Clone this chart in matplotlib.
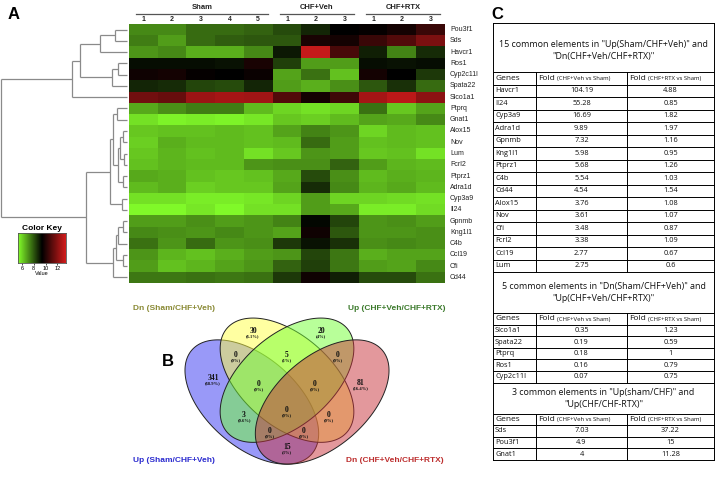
import numpy as np
import matplotlib
matplotlib.use('Agg')
import matplotlib.pyplot as plt
from matplotlib.colors import LinearSegmentedColormap
from matplotlib.patches import Polygon

W, H = 719, 479

# ---------------- Panel A data ----------------
genes = ['Pou3f1', 'Sds', 'Havcr1', 'Ros1', 'Cyp2c11l', 'Spata22', 'Slco1a1',
         'Ptprq', 'Gnat1', 'Alox15', 'Nov', 'Lum', 'Fcrl2', 'Ptprz1', 'Adra1d',
         'Cyp3a9', 'Il24', 'Gpnmb', 'Kng1l1', 'C4b', 'Ccl19', 'Cfi', 'Cd44']
groups = ['Sham', 'CHF+Veh', 'CHF+RTX']
group_sizes = [5, 3, 3]

sham_vals = [
    [7.2, 7.2, 7.7, 7.7, 7.8], [7.4, 6.9, 7.7, 7.9, 8.0], [7.0, 7.2, 6.6, 6.6, 7.2],
    [9.2, 9.2, 9.2, 9.1, 9.9], [9.7, 9.8, 9.5, 9.4, 9.6], [8.8, 8.7, 8.3, 8.2, 8.8],
    [11.6, 11.4, 12.4, 12.6, 12.5], [6.7, 7.1, 7.4, 7.4, 6.4], [5.8, 5.5, 5.6, 5.5, 5.7],
    [6.2, 6.3, 6.3, 6.4, 6.3], [6.1, 6.6, 6.4, 6.4, 6.3], [6.2, 6.5, 6.3, 6.4, 5.8],
    [6.3, 6.5, 6.4, 6.4, 7.0], [6.7, 6.6, 6.3, 6.2, 6.3], [6.4, 6.6, 6.1, 6.2, 6.2],
    [5.8, 5.8, 5.6, 5.6, 5.7], [5.4, 5.4, 5.7, 5.4, 5.8], [6.9, 6.9, 7.1, 6.9, 7.0],
    [7.2, 7.1, 7.0, 7.2, 7.0], [7.6, 7.0, 7.7, 7.0, 7.1], [7.0, 6.5, 6.3, 6.6, 6.9],
    [6.9, 6.3, 6.5, 6.8, 7.0], [7.5, 7.5, 7.6, 7.5, 7.6]]
veh_vals = [
    [8.2, 8.8, 9.4], [8.0, 9.9, 9.8], [9.0, 13.2, 10.8], [8.4, 6.9, 6.9], [6.8, 7.6, 6.3],
    [6.9, 6.6, 7.1], [11.0, 9.8, 10.6], [6.0, 5.8, 6.0], [6.2, 6.1, 6.4], [6.8, 7.3, 7.0],
    [6.4, 7.7, 6.9], [6.2, 7.0, 6.9], [7.1, 7.1, 7.8], [6.7, 8.2, 7.1], [6.8, 8.7, 7.2],
    [6.0, 6.9, 6.0], [5.8, 6.9, 6.7], [7.3, 9.3, 8.3], [6.8, 9.7, 8.0], [8.5, 9.1, 8.6],
    [7.0, 8.3, 7.5], [7.8, 8.4, 7.5], [8.5, 9.7, 8.9]]
rtx_vals = [
    [9.5, 9.8, 10.5], [10.5, 11.0, 11.8], [8.9, 7.3, 8.7], [9.2, 9.1, 9.2], [9.8, 9.4, 8.5],
    [8.0, 8.6, 7.7], [12.6, 13.0, 12.1], [7.6, 6.2, 6.8], [6.8, 6.7, 7.2], [6.0, 6.4, 6.3],
    [6.3, 6.4, 6.3], [6.2, 6.3, 5.8], [6.9, 6.5, 6.4], [6.4, 6.6, 6.5], [6.5, 6.7, 6.4],
    [6.0, 5.9, 5.8], [5.6, 5.6, 5.9], [7.0, 7.1, 6.9], [7.0, 7.0, 7.1], [7.1, 7.2, 7.1],
    [6.6, 6.8, 6.8], [6.9, 6.8, 7.2], [8.2, 8.2, 7.6]]

# dendrogram merges: (child_a, child_b, height); ids >= 23 refer to earlier merges
merges = [
    (0, 1, 14), (23, 2, 29), (3, 4, 11), (25, 5, 17), (24, 26, 49), (27, 6, 57),
    (7, 8, 12), (9, 10, 6), (11, 12, 5), (30, 31, 9), (13, 14, 6), (32, 33, 11),
    (29, 34, 16), (15, 16, 7), (35, 36, 19), (17, 18, 6), (38, 19, 11), (20, 21, 6),
    (39, 40, 13), (41, 22, 16), (37, 42, 43), (28, 43, 127.7)]

key_ticks = [6, 8, 10, 12]
vmin, vmax = 5.3, 13.5

# ---------------- Panel B data ----------------
venn_sets = ['Up (Sham/CHF+Veh)', 'Dn (Sham/CHF+Veh)', 'Up (CHF+Veh/CHF+RTX)', 'Dn (CHF+Veh/CHF+RTX)']
venn_counts = ['30', '20', '0', '5', '0', '341', '0', '0', '81', '3', '0', '0', '0', '0', '15']
venn_pcts = ['(6.1%)', '(4%)', '(0%)', '(1%)', '(0%)', '(68.9%)', '(0%)', '(0%)', '(16.4%)',
             '(0.6%)', '(0%)', '(0%)', '(0%)', '(0%)', '(3%)']

# ---------------- Panel C data ----------------
titles = [['15 common elements in "Up(Sham/CHF+Veh)" and', '"Dn(CHF+Veh/CHF+RTX)"'],
          ['5 common elements in "Dn(Sham/CHF+Veh)" and', '"Up(CHF+Veh/CHF+RTX)"'],
          ['3 common elements in "Up(sham/CHF)" and', '"Up(CHF/CHF-RTX)"']]
block1_genes = ['Havcr1', 'Il24', 'Cyp3a9', 'Adra1d', 'Gpnmb', 'Kng1l1', 'Ptprz1', 'C4b',
                'Cd44', 'Alox15', 'Nov', 'Cfi', 'Fcrl2', 'Ccl19', 'Lum']
block1_veh = ['104.19', '55.28', '16.69', '9.89', '7.32', '5.98', '5.68', '5.54', '4.54',
              '3.76', '3.61', '3.48', '3.38', '2.77', '2.75']
block1_rtx = ['4.88', '0.85', '1.82', '1.97', '1.16', '0.95', '1.26', '1.03', '1.54',
              '1.08', '1.07', '0.87', '1.09', '0.67', '0.6']
block2_genes = ['Slco1a1', 'Spata22', 'Ptprq', 'Ros1', 'Cyp2c11l']
block2_veh = ['0.35', '0.19', '0.18', '0.16', '0.07']
block2_rtx = ['1.23', '0.59', '1', '0.79', '0.75']
block3_genes = ['Sds', 'Pou3f1', 'Gnat1']
block3_veh = ['7.03', '4.9', '4']
block3_rtx = ['37.22', '15', '11.28']

# ============================================================
fig = plt.figure(figsize=(W / 100, H / 100), dpi=100)
ov = fig.add_axes([0, 0, 1, 1])
ov.set_xlim(0, W)
ov.set_ylim(H, 0)
ov.axis('off')

SANS = 'Liberation Sans'
TAB = 'Open Sans'

# ---- heatmap ----
HL, HR, HT, HB = 129, 445, 24, 283
data = np.hstack([np.array(sham_vals), np.array(veh_vals), np.array(rtx_vals)])
cmap = LinearSegmentedColormap.from_list('gbr', ['#84FF2A', '#000000', '#D41C1C'])
axh = fig.add_axes([HL / W, 1 - HB / H, (HR - HL) / W, (HB - HT) / H])
axh.imshow(data, cmap=cmap, vmin=vmin, vmax=vmax, aspect='auto', interpolation='nearest')
axh.axis('off')

nrow, ncol = data.shape
rh = (HB - HT) / nrow
cw = (HR - HL) / ncol
for i, g in enumerate(genes):
    ov.text(450, HT + (i + 0.5) * rh, g, fontsize=5, family=SANS, va='center', ha='left', color='#222222')

c0 = 0
for gname, n in zip(groups, group_sizes):
    x0 = HL + c0 * cw
    x1 = HL + (c0 + n) * cw
    ov.plot([x0 + 7, x1 - 5], [13.5, 13.5], color='#555555', lw=0.9)
    ov.text((x0 + x1) / 2 + 1, 7, gname, fontsize=5.5, family=SANS, weight='bold', ha='center', va='center', color='#222222')
    for k in range(n):
        ov.text(x0 + (k + 0.5) * cw, 19, str(k + 1), fontsize=5, family=SANS, weight='bold', ha='center', va='center', color='#222222')
    c0 += n

# ---- dendrogram ----
ypos = {i: HT + (i + 0.5) * rh for i in range(nrow)}
hts = {i: 0.0 for i in range(nrow)}
DC = '#8a8a8a'
for k, (a, b, h) in enumerate(merges):
    nid = nrow + k
    xa = HL - 2 if hts[a] == 0 else HL - hts[a]
    xb = HL - 2 if hts[b] == 0 else HL - hts[b]
    xn = HL - h
    ov.plot([xn, xn], [ypos[a], ypos[b]], color=DC, lw=0.9, solid_capstyle='butt')
    ov.plot([xn, xa], [ypos[a], ypos[a]], color=DC, lw=0.9, solid_capstyle='butt')
    ov.plot([xn, xb], [ypos[b], ypos[b]], color=DC, lw=0.9, solid_capstyle='butt')
    ypos[nid] = (ypos[a] + ypos[b]) / 2
    hts[nid] = h

# ---- colour key ----
axk = fig.add_axes([18 / W, 1 - 263 / H, 48 / W, 30 / H])
grad = np.linspace(vmin, vmax, 256)[None, :]
axk.imshow(grad, cmap=cmap, vmin=vmin, vmax=vmax, aspect='auto', extent=[vmin, vmax, 0, 1])
axk.set_xticks(key_ticks)
axk.set_xticklabels([str(t) for t in key_ticks], fontsize=4, family=SANS)
axk.tick_params(axis='x', length=1.5, width=0.5, pad=0.8)
axk.set_yticks([])
for s in axk.spines.values():
    s.set_color('#555555')
    s.set_linewidth(0.6)
axk.set_xlabel('Value', fontsize=4, family=SANS, labelpad=0)
ov.text(42, 228.5, 'Color Key', fontsize=6, family=SANS, weight='bold', ha='center', va='center')

ov.text(8, 14, 'A', fontsize=12, family=SANS, weight='bold', va='center', ha='left')

# ---- Venn (panel B) ----
cx0, Sx, Sy = 287, 234.5, 218
centers = [(0.35, 0.47), (0.5, 0.57), (0.5, 0.57), (0.65, 0.47)]
rots = [-45, -45, 45, 45]
vcols = ['#3535F2', '#FFFF45', '#72FF35', '#C8323A']
t = np.linspace(0, 2 * np.pi, 300)
for (ex, ey), r, col in zip(centers, rots, vcols):
    th = np.deg2rad(r)
    xs = ex + 0.35 * np.cos(t) * np.cos(th) - 0.2 * np.sin(t) * np.sin(th)
    ys = ey + 0.35 * np.cos(t) * np.sin(th) + 0.2 * np.sin(t) * np.cos(th)
    px = cx0 + (xs - 0.5) * Sx
    py = 402 - (ys - 0.47) * Sy
    ov.add_patch(Polygon(np.c_[px, py], closed=True, facecolor=col, alpha=0.5, edgecolor='none'))
    ov.add_patch(Polygon(np.c_[px, py], closed=True, facecolor='none', edgecolor='#222222', lw=0.7))

lab_pos = [(253, 333), (321, 333), (236, 357), (287, 357), (338, 357), (213, 380), (259, 386),
           (315, 386), (361, 385), (244, 417), (287, 412), (329, 417), (270, 433), (304, 433), (287, 449)]
for (x, y), c, p in zip(lab_pos, venn_counts, venn_pcts):
    ov.text(x, y - 2, c, fontsize=5.5, family='Liberation Serif', weight='bold', ha='center', va='center', color='#111111')
    ov.text(x, y + 3.2, p, fontsize=3.3, family='Liberation Serif', weight='bold', ha='center', va='center', color='#111111')

ov.text(215, 309, venn_sets[1], fontsize=6, family=SANS, weight='bold', color='#8A8A35', ha='right', va='center')
ov.text(348, 309, venn_sets[2], fontsize=6, family=SANS, weight='bold', color='#3C7A2C', ha='left', va='center')
ov.text(215, 460, venn_sets[0], fontsize=6, family=SANS, weight='bold', color='#2B2BCF', ha='right', va='center')
ov.text(346, 460, venn_sets[3], fontsize=6, family=SANS, weight='bold', color='#BD2E2E', ha='left', va='center')
ov.text(162, 362, 'B', fontsize=12, family=SANS, weight='bold', va='center', ha='left')

# ---- table (panel C) ----
ov.text(491, 14, 'C', fontsize=12, family=SANS, weight='bold', va='center', ha='left')
L, C1, C2, R = 493, 536, 627, 714
row_h = [12.5, 11.6, 11.6]
title_h = [49, 41, 31]
title_off = [3, 0, 0]
blocks = [(block1_genes, block1_veh, block1_rtx), (block2_genes, block2_veh, block2_rtx),
          (block3_genes, block3_veh, block3_rtx)]
lw = 0.7
TC = '#111111'
y = 23
ov.plot([L, R], [y, y], color='k', lw=lw)
for bi, (gl, v1, v2) in enumerate(blocks):
    RH = row_h[bi]
    th_ = title_h[bi]
    mid = y + th_ / 2 + title_off[bi]
    ov.text((L + R) / 2, mid - 6, titles[bi][0], fontsize=6.4, family=TAB, ha='center', va='center', color=TC)
    ov.text((L + R) / 2, mid + 6, titles[bi][1], fontsize=6.4, family=TAB, ha='center', va='center', color=TC)
    y_top_rows = y + th_
    ov.plot([L, R], [y_top_rows, y_top_rows], color='k', lw=lw)
    rows = [('Genes', None, None)] + list(zip(gl, v1, v2))
    for ri, row in enumerate(rows):
        yc = y_top_rows + (ri + 0.5) * RH
        if ri == 0:
            ov.text(L + 2, yc, 'Genes', fontsize=6, family=TAB, ha='left', va='center', color=TC)
            for cl in (C1, C2):
                ov.text(cl + 2.5, yc, 'Fold', fontsize=6, family=TAB, ha='left', va='center', color=TC)
            ov.text(C1 + 21, yc + 0.5, '(CHF+Veh vs Sham)', fontsize=4.3, family=TAB, ha='left', va='center', color=TC)
            ov.text(C2 + 21, yc + 0.5, '(CHF+RTX vs Sham)', fontsize=4.3, family=TAB, ha='left', va='center', color=TC)
        else:
            ov.text(L + 2, yc, row[0], fontsize=5.3, family=TAB, ha='left', va='center', color=TC)
            ov.text((C1 + C2) / 2, yc, row[1], fontsize=5.3, family=TAB, ha='center', va='center', color=TC)
            ov.text((C2 + R) / 2, yc, row[2], fontsize=5.3, family=TAB, ha='center', va='center', color=TC)
        ov.plot([L, R], [y_top_rows + (ri + 1) * RH] * 2, color='k', lw=lw)
    y_end = y_top_rows + len(rows) * RH
    ov.plot([C1, C1], [y_top_rows, y_end], color='k', lw=lw)
    ov.plot([C2, C2], [y_top_rows, y_end], color='k', lw=lw)
    y = y_end
ov.plot([L, L], [23, y], color='k', lw=lw)
ov.plot([R, R], [23, y], color='k', lw=lw)

fig.savefig('out.png', dpi=100)
